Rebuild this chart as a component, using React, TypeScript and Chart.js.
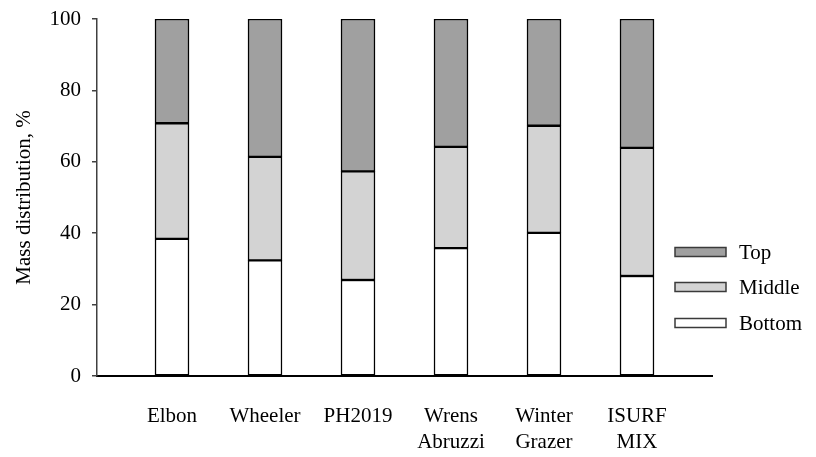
import React, { useEffect, useRef } from "react";
import { Chart, registerables } from "chart.js";

Chart.register(...registerables);

const categories: string[][] = [
  ["Elbon"],
  ["Wheeler"],
  ["PH2019"],
  ["Wrens", "Abruzzi"],
  ["Winter", "Grazer"],
  ["ISURF", "MIX"],
];
const bottomValues = [38.4, 32.4, 26.9, 35.8, 40.1, 28.0];
const middleValues = [32.4, 29.0, 30.4, 28.4, 30.0, 35.9];
const topValues = [29.2, 38.6, 42.7, 35.8, 29.9, 36.1];
const yTicks = [0, 20, 40, 60, 80, 100];

const FONT = "'Liberation Serif', 'Times New Roman', serif";

const legendPlugin = {
  id: "customLegend",
  afterDraw(chart: any) {
    const ctx = chart.ctx as CanvasRenderingContext2D;
    const right = chart.chartArea.right;
    const items = [...chart.data.datasets].reverse();
    const rowsY = [252, 287, 323];
    ctx.save();
    items.forEach((ds: any, i: number) => {
      const y = rowsY[i];
      const bx = right - 37;
      ctx.fillStyle = ds.backgroundColor;
      ctx.fillRect(bx, y - 4.5, 51, 9);
      ctx.strokeStyle = "#3a3a3a";
      ctx.lineWidth = 1.5;
      ctx.strokeRect(bx, y - 4.5, 51, 9);
      ctx.fillStyle = "#000";
      ctx.font = `21px ${FONT}`;
      ctx.textBaseline = "middle";
      ctx.textAlign = "left";
      ctx.fillText(ds.label, bx + 64, y + 1);
    });
    ctx.restore();
  },
};

export default function App() {
  const ref = useRef<HTMLCanvasElement | null>(null);
  useEffect(() => {
    if (!ref.current) return;
    const toPts = (arr: number[]) => arr.map((v, i) => ({ x: i, y: v }));
    const common = {
      borderColor: "#000",
      borderWidth: 1.5,
      barThickness: 34,
      borderSkipped: false as const,
    };
    const chart = new Chart(ref.current, {
      type: "bar",
      data: {
        datasets: [
          { label: "Bottom", data: toPts(bottomValues), backgroundColor: "#ffffff", ...common },
          { label: "Middle", data: toPts(middleValues), backgroundColor: "#d3d3d3", ...common },
          { label: "Top", data: toPts(topValues), backgroundColor: "#a0a0a0", ...common },
        ],
      },
      options: {
        animation: false,
        responsive: true,
        maintainAspectRatio: false,
        layout: { padding: { top: 19, right: 104, left: 0, bottom: 0 } },
        plugins: { legend: { display: false }, tooltip: { enabled: false } },
        scales: {
          x: {
            type: "linear",
            stacked: true,
            offset: false,
            min: -0.8065,
            max: categories.length - 1 + 0.8065,
            afterBuildTicks: (scale: any) => {
              scale.ticks = categories.map((_, i) => ({ value: i }));
            },
            afterFit: (scale: any) => {
              scale.height = 81;
              scale.paddingLeft = 0;
              scale.paddingRight = 0;
            },
            grid: { display: false, drawTicks: false, offset: false },
            border: { display: true, color: "#000", width: 2 },
            ticks: {
              autoSkip: false,
              maxRotation: 0,
              padding: 28,
              color: "#000",
              font: { family: FONT, size: 21, lineHeight: 1.21 },
              callback: (v: any) => {
                const i = Number(v);
                return Number.isInteger(i) && categories[i] ? categories[i] : "";
              },
            },
          },
          y: {
            stacked: true,
            min: 0,
            max: 100,
            afterBuildTicks: (scale: any) => {
              scale.ticks = yTicks.map((v) => ({ value: v }));
            },
            afterFit: (scale: any) => {
              scale.width = 97;
              scale.paddingTop = 0;
              scale.paddingBottom = 0;
            },
            grid: { drawOnChartArea: false, drawTicks: true, tickLength: 5, color: "#404040", lineWidth: 1.5 },
            border: { display: true, color: "#404040", width: 1.5 },
            ticks: {
              padding: 11,
              color: "#000",
              font: { family: FONT, size: 21 },
            },
            title: {
              display: true,
              text: "Mass distribution, %",
              color: "#000",
              font: { family: FONT, size: 21 },
              padding: { top: 12, bottom: 0 },
            },
          },
        },
      },
      plugins: [legendPlugin],
    });
    return () => chart.destroy();
  }, []);
  return (
    <div style={{ position: "absolute", left: 0, top: 0, width: 816, height: 457, background: "#fff" }}>
      <canvas ref={ref} />
    </div>
  );
}
